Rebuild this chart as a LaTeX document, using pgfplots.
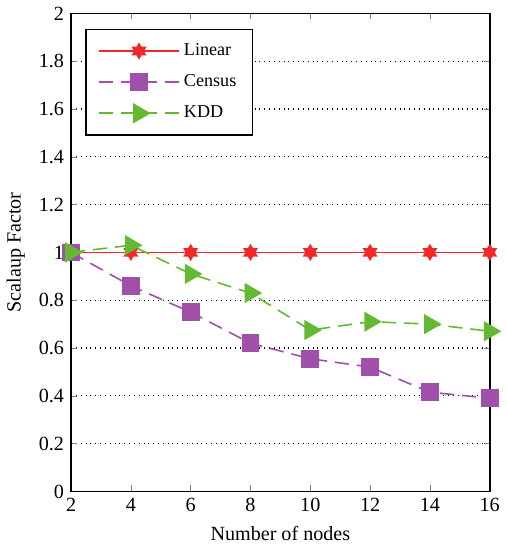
\documentclass[border=0pt]{standalone}
\usepackage{fontspec}
\setmainfont{Liberation Serif}
\usepackage{pgfplots}
\pgfplotsset{compat=1.18}
\definecolor{linred}{RGB}{240,40,40}
\definecolor{cenpurple}{RGB}{160,80,170}
\definecolor{kddgreen}{RGB}{100,185,50}
% six-pointed star made of two triangles (same winding so the centre is filled)
\pgfdeclareplotmark{hexstar}{%
  \pgfpathmoveto{\pgfqpoint{0pt}{\pgfplotmarksize}}%
  \pgfpathlineto{\pgfqpoint{-0.866\pgfplotmarksize}{-0.5\pgfplotmarksize}}%
  \pgfpathlineto{\pgfqpoint{0.866\pgfplotmarksize}{-0.5\pgfplotmarksize}}%
  \pgfpathclose
  \pgfpathmoveto{\pgfqpoint{0pt}{-\pgfplotmarksize}}%
  \pgfpathlineto{\pgfqpoint{0.866\pgfplotmarksize}{0.5\pgfplotmarksize}}%
  \pgfpathlineto{\pgfqpoint{-0.866\pgfplotmarksize}{0.5\pgfplotmarksize}}%
  \pgfpathclose
  \pgfusepathqfillstroke}
\begin{document}
\begin{tikzpicture}
\begin{axis}[
    width=208pt, height=237.5pt, scale only axis,
    xmin=2, xmax=16, ymin=0, ymax=2,
    xtick={2,4,...,16},
    ytick={0,0.2,...,2},
    yticklabels={0,0.2,0.4,0.6,0.8,1,1.2,1.4,1.6,1.8,2},
    tick align=inside,
    major tick length=3pt,
    ymajorgrids,
    grid style={black, dotted, line width=0.6pt},
    axis line style={line width=0.8pt},
    xlabel={Number of nodes}, ylabel={Scalaup Factor},
    ticklabel style={font=\normalsize},
    label style={font=\normalsize},
    /pgf/number format/assume math mode=true,
    legend style={at={(0.034,0.968)}, anchor=north west, font=\small,
        draw=black, line width=0.8pt, row sep=4pt, inner xsep=6pt, inner ysep=5pt},
    legend cell align=left,
    legend image code/.code={%
        \draw[mark repeat=2, mark phase=2]
        plot coordinates {(0cm,0cm) (0.7cm,0cm) (1.4cm,0cm)};},
]
\addplot[linred, line width=0.8pt, mark=hexstar, mark size=3.5pt,
    mark options={solid, fill=linred}]
    coordinates {(2,1)(4,1)(6,1)(8,1)(10,1)(12,1)(14,1)(16,1)};
\addplot[cenpurple, line width=0.8pt, dash pattern=on 7pt off 4pt, mark=square*, mark size=4pt,
    mark options={solid, fill=cenpurple}]
    coordinates {(2,1.0)(4,0.86)(6,0.75)(8,0.62)(10,0.555)(12,0.52)(14,0.415)(16,0.39)};
\addplot[kddgreen, line width=0.8pt, dash pattern=on 7pt off 4pt, mark=triangle*, mark size=5pt,
    mark options={solid, fill=kddgreen, rotate=-90}]
    coordinates {(2,1.0)(4,1.03)(6,0.91)(8,0.83)(10,0.675)(12,0.71)(14,0.70)(16,0.67)};
\legend{Linear, Census, KDD}
\end{axis}
\end{tikzpicture}
\end{document}
